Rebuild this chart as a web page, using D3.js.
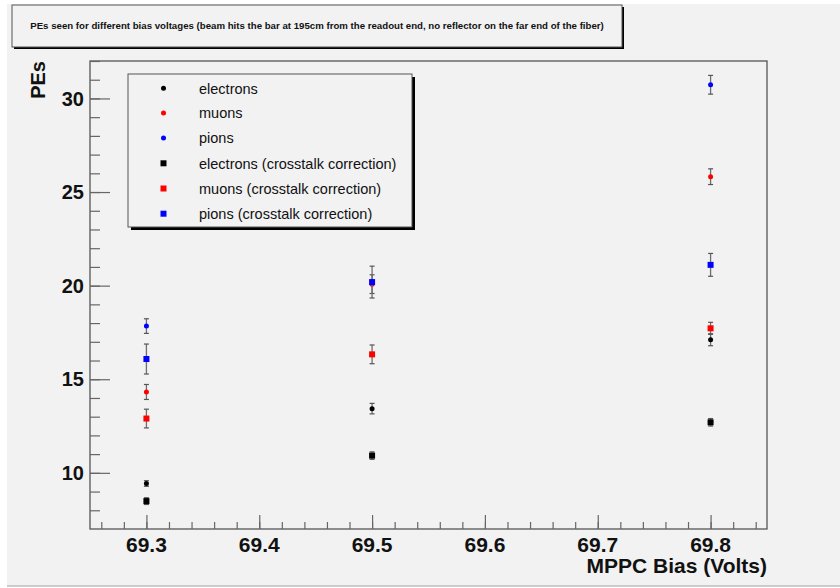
<!DOCTYPE html>
<html>
<head>
<meta charset="utf-8">
<script src="https://cdn.jsdelivr.net/npm/d3@7/dist/d3.min.js"></script>
<style>
  html, body { margin: 0; padding: 0; background: #ffffff; }
  svg { display: block; font-family: "Liberation Sans", Arial, Helvetica, sans-serif; }
</style>
</head>
<body>
<svg id="chart" width="840" height="588"></svg>
<script>
// Bias voltages (V) at which the bar was read out
const biasVoltages = [69.3, 69.5, 69.8];

// Mean photo-electrons per particle type, with statistical errors
const electrons    = [9.43, 13.43, 17.11];
const electronsErr = [0.15, 0.28, 0.32];
const muons        = [14.32, 20.08, 25.82];
const muonsErr     = [0.40, 0.50, 0.42];
const pions        = [17.84, null, 30.73];
const pionsErr     = [0.39, null, 0.50];

// Same samples after the crosstalk correction
const electronsCT    = [8.49, 10.92, 12.70];
const electronsCTErr = [0.18, 0.20, 0.20];
const muonsCT        = [12.90, 16.33, 17.72];
const muonsCTErr     = [0.50, 0.50, 0.32];
const pionsCT        = [16.08, 20.19, 21.11];
const pionsCTErr     = [0.80, 0.85, 0.61];

const xTicks = [69.3, 69.4, 69.5, 69.6, 69.7, 69.8];
const yTicks = [10, 15, 20, 25, 30];

const titleText = "PEs seen for different bias voltages (beam hits the bar at 195cm from the readout end, no reflector on the far end of the fiber)";

const seriesList = [
  { name: "electrons", values: electrons, errors: electronsErr, color: "#000000", shape: "circle" },
  { name: "muons", values: muons, errors: muonsErr, color: "#ff0000", shape: "circle" },
  { name: "pions", values: pions, errors: pionsErr, color: "#0000ff", shape: "circle" },
  { name: "electrons (crosstalk correction)", values: electronsCT, errors: electronsCTErr, color: "#000000", shape: "square" },
  { name: "muons (crosstalk correction)", values: muonsCT, errors: muonsCTErr, color: "#ff0000", shape: "square" },
  { name: "pions (crosstalk correction)", values: pionsCT, errors: pionsCTErr, color: "#0000ff", shape: "square" }
];

const svg = d3.select("#chart");

// canvas background
svg.append("rect").attr("x", 7).attr("y", 4).attr("width", 833).attr("height", 582).attr("fill", "#f2f2f2");
svg.append("line").attr("x1", 7).attr("x2", 840).attr("y1", 586).attr("y2", 586)
  .attr("stroke", "#bdbdbd").attr("stroke-width", 1.5);

const frame = { left: 90, right: 767, top: 61, bottom: 529 };

const x = d3.scaleLinear().domain([69.25, 69.85]).range([frame.left, frame.right]);
const y = d3.scaleLinear().domain([7, 32]).range([frame.bottom, frame.top]);

// frame
svg.append("rect")
  .attr("x", frame.left).attr("y", frame.top)
  .attr("width", frame.right - frame.left).attr("height", frame.bottom - frame.top)
  .attr("fill", "#f2f2f2").attr("stroke", "#555555").attr("stroke-width", 1.3);

// x axis: major ticks every 0.1, minor every 0.02
const xMinor = d3.range(69.26, 69.85, 0.02).map(v => +v.toFixed(2));
const xAxisMinor = d3.axisTop(x).tickValues(xMinor).tickSize(7).tickFormat("");
const xAxisMajor = d3.axisTop(x).tickValues(xTicks).tickSize(14).tickFormat("");
[xAxisMinor, xAxisMajor].forEach(ax => {
  const g = svg.append("g").attr("transform", `translate(0,${frame.bottom})`).call(ax);
  g.select(".domain").remove();
  g.selectAll("line").attr("stroke", "#666666").attr("stroke-width", 1.2);
});
svg.append("g").selectAll("text").data(xTicks).join("text")
  .attr("x", d => x(d)).attr("y", 552)
  .attr("text-anchor", "middle").attr("font-size", 21).attr("font-weight", "bold").attr("fill", "#111")
  .text(d => d3.format(".1f")(d));

// y axis: major every 5, minor every 1
const yMinor = d3.range(8, 33, 1);
const yAxisMinor = d3.axisRight(y).tickValues(yMinor).tickSize(10).tickFormat("");
const yAxisMajor = d3.axisRight(y).tickValues(yTicks).tickSize(20).tickFormat("");
[yAxisMinor, yAxisMajor].forEach(ax => {
  const g = svg.append("g").attr("transform", `translate(${frame.left},0)`).call(ax);
  g.select(".domain").remove();
  g.selectAll("line").attr("stroke", "#666666").attr("stroke-width", 1.2);
});
svg.append("g").selectAll("text").data(yTicks).join("text")
  .attr("x", 84).attr("y", d => y(d)).attr("dy", "0.36em")
  .attr("text-anchor", "end").attr("font-size", 20).attr("font-weight", "bold").attr("fill", "#111")
  .text(d => d);

// axis titles
svg.append("text").attr("x", 767).attr("y", 573)
  .attr("text-anchor", "end").attr("font-size", 21).attr("font-weight", "bold").attr("fill", "#111")
  .text("MPPC Bias (Volts)");
svg.append("text").attr("transform", "translate(45,61) rotate(-90)")
  .attr("text-anchor", "end").attr("font-size", 20).attr("font-weight", "bold").attr("fill", "#111")
  .text("PEs");

// data: error bars then markers, one series after another
const plot = svg.append("g");
function drawMarker(g, shape, color, cx, cy, size) {
  if (shape === "circle") {
    g.append("circle").attr("cx", cx).attr("cy", cy).attr("r", size / 2).attr("fill", color);
  } else {
    g.append("rect").attr("x", cx - size / 2).attr("y", cy - size / 2)
      .attr("width", size).attr("height", size).attr("fill", color);
  }
}
seriesList.forEach(s => {
  const g = plot.append("g");
  const pts = biasVoltages.map((v, i) => ({ v, val: s.values[i], err: s.errors[i] }))
    .filter(p => p.val !== null);
  pts.forEach(p => {
    const cx = x(p.v), y0 = y(p.val - p.err), y1 = y(p.val + p.err);
    g.append("line").attr("x1", cx).attr("x2", cx).attr("y1", y0).attr("y2", y1)
      .attr("stroke", "#6e6e6e").attr("stroke-width", 1.3);
    [y0, y1].forEach(yy => g.append("line").attr("x1", cx - 2.5).attr("x2", cx + 2.5)
      .attr("y1", yy).attr("y2", yy).attr("stroke", "#555555").attr("stroke-width", 1.2));
    drawMarker(g, s.shape, s.color, cx, y(p.val), s.shape === "circle" ? 5 : 6);
  });
});

// legend
const legend = { x: 128, y: 74, w: 284, h: 153 };
svg.append("rect").attr("x", legend.x + 3).attr("y", legend.y + 3)
  .attr("width", legend.w).attr("height", legend.h).attr("fill", "#000");
svg.append("rect").attr("x", legend.x).attr("y", legend.y)
  .attr("width", legend.w).attr("height", legend.h)
  .attr("fill", "#f2f2f2").attr("stroke", "#555").attr("stroke-width", 1);
const legendRows = [88.3, 112.9, 138.1, 163.3, 188.5, 213.7];
seriesList.forEach((s, i) => {
  const g = svg.append("g");
  drawMarker(g, s.shape, s.color, 163.5, legendRows[i], s.shape === "circle" ? 5 : 6);
  g.append("text").attr("x", 199).attr("y", legendRows[i]).attr("dy", "0.36em")
    .attr("font-size", 14.5).attr("fill", "#111").text(s.name);
});

// title box
svg.append("rect").attr("x", 14).attr("y", 7).attr("width", 610).attr("height", 42).attr("fill", "#000");
svg.append("rect").attr("x", 12).attr("y", 5).attr("width", 610).attr("height", 42)
  .attr("fill", "#f2f2f2").attr("stroke", "#555").attr("stroke-width", 1);
const title = svg.append("text").attr("x", 317).attr("y", 26).attr("dy", "0.36em")
  .attr("text-anchor", "middle").attr("font-size", 10).attr("font-weight", "bold").attr("fill", "#111")
  .text(titleText);
const tw = title.node().getComputedTextLength();
title.attr("font-size", 10 * 575 / tw);
</script>
</body>
</html>
